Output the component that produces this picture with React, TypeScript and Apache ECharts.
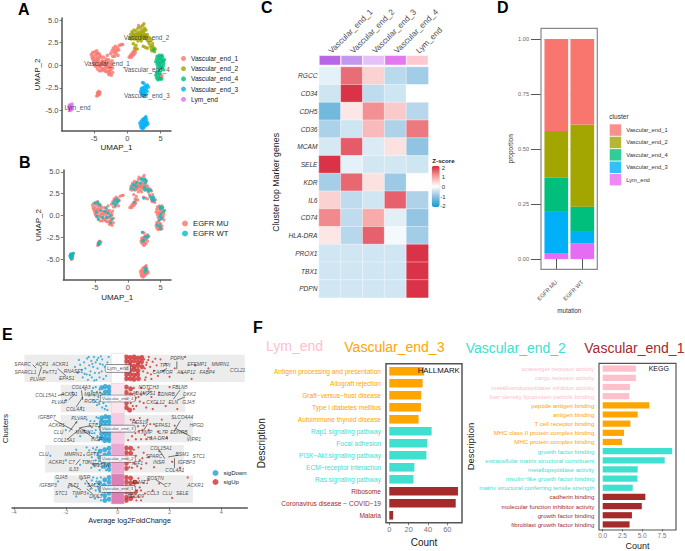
import React, { useEffect, useRef } from "react";
import * as echarts from "echarts";

const FONT = '"Liberation Sans", Arial, sans-serif';

/* ---------- Panel A / B : UMAP ---------- */
const clusterNames = ["Vascular_end_1", "Vascular_end_2", "Vascular_end_4", "Vascular_end_3", "Lym_end"];
const clusterColors = ["#F8766D", "#A3A500", "#00BF7D", "#00B0F6", "#E76BF3"];

const umapEnd1 = [[-5.4,1.2],[-5.3,0.9],[-5.2,1.4],[-5.1,0.5],[-5.0,1.0],[-5.0,0.2],[-4.9,1.5],[-4.8,0.7],[-4.8,-0.1],[-4.7,1.2],[-4.6,0.3],[-4.6,1.6],[-4.5,-0.4],[-4.5,0.9],[-4.4,0.0],[-4.3,1.3],[-4.3,0.5],[-4.2,-0.6],[-4.1,0.2],[-4.0,0.9],[-4.0,-0.2],[-3.9,-0.6],[-3.8,0.5],[-3.7,0.1],[-3.6,0.9],[-3.5,-0.4],[-3.4,0.4],[-3.3,-0.1],[-3.2,0.7],[-3.2,-0.7],[-3.1,-0.3],[-3.0,0.2],[-3.0,1.1],[-2.9,-0.7],[-2.8,0.6],[-2.8,-1.0],[-2.7,-0.2],[-2.6,0.3],[-2.6,-0.9],[-2.5,-0.5],[-2.4,0.1],[-2.4,-1.1],[-2.3,0.5],[-2.2,-0.3],[-2.2,-0.8],[-5.2,0.7],[-4.9,0.1],[-4.7,0.5],[-4.5,1.3],[-4.4,0.7],[-4.2,-0.1],[-4.1,1.1],[-3.9,0.2],[-3.7,-0.4],[-3.6,0.4],[-3.4,-0.6],[-3.3,0.2],[-3.1,0.5],[-2.9,-0.2],[-2.7,-0.6],[-2.5,0.0],[-2.5,1.3],[-2.3,1.6],[-2.2,1.0],[-2.1,1.9],[-2.0,1.4],[-1.9,1.0],[-1.9,1.7],[-1.8,2.1],[-1.7,1.3],[-1.6,1.6],[-1.5,1.9],[-1.4,1.1],[-1.3,1.7],[-1.2,2.2],[-0.9,2.3],[-0.7,2.3],[-4.6,-3.4],[-4.5,-3.1],[-4.4,-3.3],[-4.3,-2.9],[-4.2,-3.2],[-4.1,-3.0],[-4.4,-3.0],[0.3,0.9],[0.5,1.1],[0.6,0.9],[0.7,1.3],[0.8,1.1],[0.9,1.5],[1.0,1.2],[1.1,1.6],[1.2,1.4],[1.3,1.8],[4.9,-1.3],[5.0,-1.0],[5.2,-1.2],[1.7,4.4]];
const umapEnd2 = [[0.4,3.0],[0.5,3.4],[0.6,2.9],[0.7,3.7],[0.8,3.2],[0.9,2.4],[0.9,3.5],[1.0,3.9],[1.1,2.9],[1.1,1.9],[1.2,3.4],[1.3,2.2],[1.3,3.8],[1.4,3.0],[1.5,3.5],[1.5,1.8],[1.6,2.7],[1.6,4.1],[1.7,3.2],[1.8,3.7],[1.9,2.9],[2.0,4.2],[2.0,3.4],[2.1,2.7],[2.2,3.9],[2.2,3.1],[2.3,4.4],[2.4,3.6],[2.4,2.1],[2.5,4.6],[2.5,3.0],[2.6,4.1],[2.7,3.4],[2.7,2.0],[2.8,3.9],[2.9,2.9],[3.0,3.4],[3.0,1.9],[3.1,2.7],[3.2,3.1],[3.3,2.4],[3.4,3.0],[3.5,2.1],[3.6,2.8],[3.6,1.8],[3.7,1.6],[3.8,2.1],[3.9,1.7],[4.0,1.9],[4.1,1.5],[4.2,1.8],[3.8,2.4],[1.0,3.3],[1.3,3.1],[1.6,3.4],[1.9,3.3],[2.1,3.6],[2.3,3.3],[2.5,3.8],[2.6,3.3],[2.8,3.2]];
const umapEnd4 = [[4.3,0.4],[4.4,0.7],[4.5,0.1],[4.5,1.0],[4.6,0.4],[4.6,-0.2],[4.7,0.8],[4.7,-0.6],[4.8,0.2],[4.8,1.1],[4.9,-0.1],[4.9,0.6],[5.0,1.0],[5.0,0.3],[5.0,-0.4],[5.1,0.7],[5.1,0.0],[5.2,1.1],[5.2,-0.3],[5.3,0.4],[5.3,0.9],[5.4,-0.1],[5.4,0.5],[5.5,0.2],[5.6,0.6],[5.5,-0.5],[4.3,-1.1],[4.4,-1.4],[4.5,-0.9],[4.6,-1.6],[4.7,-1.2],[4.8,-1.5],[4.9,-0.9],[5.0,-1.5],[4.4,-0.8],[4.0,1.7],[5.2,-1.5]];
const umapEnd3 = [[2.0,-2.9],[2.1,-2.6],[2.1,-3.1],[2.2,-2.8],[2.3,-3.3],[2.3,-2.5],[2.4,-3.0],[2.5,-2.7],[2.5,-3.4],[2.6,-2.4],[2.6,-3.1],[2.7,-2.8],[2.8,-2.3],[2.8,-3.2],[2.9,-2.6],[3.0,-2.9],[3.0,-2.2],[3.2,-2.4],[2.3,-1.9],[2.5,-2.0],[1.9,-6.4],[2.0,-6.7],[2.1,-6.2],[2.1,-6.9],[2.2,-6.5],[2.3,-6.0],[2.3,-7.0],[2.4,-6.7],[2.4,-6.3],[2.5,-5.9],[2.5,-6.9],[2.6,-6.5],[2.6,-6.1],[2.7,-6.7],[2.7,-5.8],[2.8,-6.3],[2.9,-6.6],[2.9,-6.0],[3.0,-6.3],[3.1,-6.5],[2.8,-5.7]];
const umapLym = [[-8.8,-4.6],[-8.7,-4.4],[-8.7,-4.8],[-8.6,-4.5],[-8.6,-5.0],[-8.5,-4.7],[-8.5,-4.4],[-8.4,-4.6],[-8.4,-4.9],[-8.3,-4.3],[-8.7,-4.7]];
const umapByCluster = [umapEnd1, umapEnd2, umapEnd4, umapEnd3, umapLym];

const umapClusterLabels = [["Vascular_end_1",-3.05,0.25],["Vascular_end_2",2.9,3.05],["Vascular_end_4",2.95,-0.5],["Vascular_end_3",2.95,-3.3],["Lym_end",-7.5,-4.7]];

const egfrGroups = ["EGFR MU", "EGFR WT"];
const egfrColors = ["#F8766D", "#00BFC4"];
const umapWt = [[-5.0,1.4],[-4.6,1.5],[-4.3,1.2],[-4.8,0.4],[-4.5,-0.4],[-4.7,-0.1],[-4.1,0.6],[-3.8,-0.2],[-3.5,0.5],[-3.3,0.9],[-3.2,-0.2],[-3.0,0.3],[-2.7,0.0],[-2.6,-0.8],[-2.4,-0.4],[-2.2,1.4],[-2.0,1.7],[-1.9,1.2],[-1.7,1.9],[-1.6,1.5],[-1.4,1.7],[-4.5,-3.2],[-4.3,-3.0],[-4.4,-3.3],[0.5,3.2],[0.8,3.5],[0.9,3.0],[1.1,3.6],[1.3,3.3],[1.4,3.8],[1.0,1.5],[1.9,3.7],[2.0,4.2],[2.3,4.1],[2.6,4.2],[2.5,3.2],[2.7,3.7],[2.8,4.0],[2.6,2.9],[2.4,2.0],[3.0,3.0],[3.2,2.8],[3.5,2.9],[3.4,2.2],[3.6,1.9],[3.9,2.1],[4.0,1.8],[3.8,1.7],[4.9,1.0],[5.0,0.8],[5.3,0.9],[5.5,0.5],[5.1,0.2],[4.9,-0.1],[5.2,-0.3],[4.8,-0.5],[4.9,-1.2],[5.0,-1.5],[4.5,-1.1],[2.2,-1.9],[2.6,-2.4],[2.4,-2.8],[2.9,-2.5],[3.1,-2.3],[2.3,-2.9],[2.6,-6.4],[2.7,-6.0],[2.8,-6.2],[-8.8,-4.6],[-8.7,-4.4],[-8.7,-4.8],[-8.6,-4.5],[-8.5,-4.7],[-8.5,-4.4],[-8.4,-4.6],[-8.3,-4.3],[-8.6,-4.9]];

/* ---------- Panel C : heat map ---------- */
const heatColumns = ["Vascular_end_1", "Vascular_end_2", "Vascular_end_3", "Vascular_end_4", "Lym_end"];
const heatAnnotationColors = ["#B966E6", "#C398EC", "#E8C0F8", "#E478F0", "#FFC8D0"];
const heatGenes = ["RGCC","CD34","CDH5","CD36","MCAM","SELE","KDR","IL6","CD74","HLA-DRA","PROX1","TBX1","PDPN"];
const heatValues = [
  [-0.22, 1.4, 0.45, -0.6, -0.8],
  [-0.42, 1.9, -0.55, -0.42, 0],
  [-1.2, 0.25, 1.1, 0.55, -0.62],
  [-0.72, -0.42, 0.7, -0.7, 1.3],
  [-0.36, 1.55, -0.32, 0.3, -0.95],
  [1.9, -0.22, -0.38, -0.38, -0.42],
  [-0.78, 1.45, 0.3, -0.85, 0.02],
  [0.45, -0.55, -0.4, 1.5, -0.7],
  [1.15, -0.55, 0.85, -0.25, -0.92],
  [0.25, -0.62, 1.5, -0.1, -0.8],
  [-0.4, -0.4, -0.4, -0.4, 1.9],
  [-0.4, -0.4, -0.4, -0.4, 1.9],
  [-0.4, -0.4, -0.4, -0.4, 1.9],
];
const heatLegendTicks = ["2", "1", "0", "-1", "-2"];

/* ---------- Panel D : proportions ---------- */
const mutationGroups = ["EGFR MU", "EGFR WT"];
const proportions: Record<string, number[]> = {
  Lym_end: [0.027, 0.071],
  Vascular_end_3: [0.187, 0.056],
  Vascular_end_4: [0.157, 0.111],
  Vascular_end_2: [0.211, 0.374],
  Vascular_end_1: [0.418, 0.388],
};
const proportionTicks = [0, 0.25, 0.5, 0.75, 1];

/* ---------- Panel E : volcano ---------- */
const volcanoBands = [[-3.6,4.9,5],[-2.2,2.6,4],[-2.2,2.9,3],[-2.8,2.55,2],[-2.47,2.9,1]];
const volcanoTiles = [[5,"#FFFFFF"],[4,"#FCE4EF"],[3,"#F5CBE3"],[2,"#EAA8D2"],[1,"#DF7DB5"]];
const volcanoClusterLabels = [["Lym_end",5,5.3],["Vascular_end_4",4,4.4],["Vascular_end_3",3,4.4],["Vascular_end_2",2,4.4],["Vascular_end_1",1,4.4]];

const sigDownCore = [[-0.33,3.38],[-0.47,3.4],[-0.62,3.36],[-0.33,3.24],[-0.48,3.22],[-0.63,3.24],[-0.32,3.1],[-0.47,3.08],[-0.62,3.1],[-0.33,2.96],[-0.48,2.95],[-0.63,2.97],[-0.32,2.82],[-0.47,2.83],[-0.62,2.84],[-0.33,2.68],[-0.48,2.69],[-0.63,2.7],[-0.33,2.6],[-0.5,2.6],
[-0.33,4.38],[-0.48,4.4],[-0.62,4.36],[-0.33,4.24],[-0.48,4.22],[-0.34,4.1],[-0.52,4.08],[-0.33,3.96],
[-0.33,2.35],[-0.5,2.3],[-0.68,2.25],[-0.33,2.18],[-0.5,2.12],[-0.7,2.05],[-0.33,1.98],[-0.55,1.92],[-0.33,1.8],[-0.5,1.75],[-0.33,1.65],
[-0.33,1.38],[-0.5,1.3],[-0.33,1.22],[-0.52,1.12],[-0.7,1.2],[-0.33,1.05],[-0.5,0.95],[-0.68,1.0],[-0.33,0.86],[-0.5,0.78],[-0.33,0.66],[-0.5,0.62]];
const sigUpCore = [[0.33,5.38],[0.48,5.36],[0.63,5.38],[0.78,5.34],[0.93,5.36],[0.33,5.24],[0.48,5.22],[0.63,5.25],[0.78,5.2],[0.92,5.22],[0.33,5.08],[0.48,5.1],[0.63,5.07],[0.78,5.09],[0.94,5.05],[0.33,4.95],[0.48,4.94],[0.63,4.96],[0.78,4.93],[0.33,4.8],[0.48,4.81],[0.63,4.78],[0.77,4.8],[0.33,4.66],[0.48,4.66],[0.63,4.64],[0.8,4.66],
[0.33,4.38],[0.5,4.32],[0.33,4.2],[0.5,4.12],[0.33,4.02],[0.33,3.85],[0.33,3.7],[0.46,3.62],
[0.33,2.36],[0.5,2.35],[0.33,2.2],[0.5,2.18],[0.33,2.04],[0.46,1.95],[0.33,1.85],[0.33,1.68],
[0.33,1.38],[0.5,1.36],[0.33,1.22],[0.5,1.2],[0.66,1.22],[0.33,1.06],[0.5,1.04],[0.33,0.9],[0.5,0.86],[0.68,0.9],[0.33,0.72],[0.5,0.68],[0.33,0.62]];
const sigDownScatter = [[-0.4,5.2],[-0.45,4.75],[-0.5,5.05],[-0.55,4.65],[-0.6,5.3],[-0.62,4.9],[-0.68,5.15],[-0.7,4.7],[-0.75,5.35],[-0.78,5.0],[-0.82,4.62],[-0.85,5.2],[-0.88,4.85],[-0.92,5.38],[-0.95,5.05],[-1.0,4.7],[-1.02,5.25],[-1.05,4.9],[-1.1,5.1],[-1.15,4.62],[-1.18,5.33],[-1.2,4.8],[-1.25,5.0],[-1.3,5.2],[-1.35,4.7],[-1.4,4.95],[-1.45,5.12],[-1.5,5.28],[-1.55,4.85],[-1.65,5.05],[-0.9,4.6],[-0.35,5.38],[-0.65,5.4],[-1.12,5.38],[-0.72,4.85],[-0.98,5.15],[-1.28,4.82],[-0.58,5.12],[-0.8,5.28],[-1.08,4.78],
[-0.6,4.15],[-0.7,4.3],[-0.75,4.05],[-0.8,4.22],[-0.85,4.38],[-0.9,4.1],[-0.95,3.95],[-1.0,4.25],[-1.1,4.1],[-0.55,3.85],[-0.6,3.7],[-0.7,3.9],[-0.45,3.75],[-0.4,3.62],[-0.5,3.65],[-0.8,3.78],[-1.25,4.3],[-1.4,3.7],[-1.75,4.2],[-2.0,3.95],[-0.65,4.02],[-0.72,3.82],[-0.88,3.9],[-0.68,4.2],[-0.95,4.35],[-0.55,3.95],
[-0.75,3.35],[-0.8,3.15],[-0.85,2.95],[-0.78,2.75],[-0.9,3.25],[-0.95,2.7],[-1.0,3.05],[-1.1,2.88],[-1.2,3.3],[-1.3,2.95],[-1.45,2.75],[-1.6,3.2],[-2.0,2.95],[-0.72,3.05],[-0.72,2.62],[-0.82,3.38],[-0.9,2.85],[-1.05,3.25],
[-0.8,2.38],[-0.9,2.2],[-0.95,2.35],[-1.0,2.05],[-0.85,1.95],[-0.75,1.8],[-0.6,1.7],[-0.7,1.62],[-0.45,1.62],[-1.1,2.28],[-1.15,1.9],[-1.3,2.12],[-1.45,1.8],[-1.6,2.3],[-2.0,1.95],[-2.6,2.1],[-0.78,2.15],[-0.85,2.3],[-0.72,1.92],[-0.88,1.75],[-0.62,1.84],[-1.02,1.7],[-1.2,2.38],
[-0.8,1.35],[-0.9,1.15],[-0.85,0.95],[-0.75,0.72],[-0.6,0.82],[-0.65,1.38],[-1.0,1.28],[-1.05,1.0],[-1.15,0.85],[-1.25,1.18],[-1.4,1.32],[-1.6,0.75],[-1.9,1.05],[-2.3,1.25],[-0.78,1.08],[-0.7,0.9],[-0.88,0.68],[-0.65,0.62],[-0.95,1.38],[-0.82,1.25]];
const sigUpScatter = [[1.02,5.3],[1.05,5.0],[1.08,4.7],[1.12,5.2],[1.15,4.85],[1.2,5.38],[1.25,5.05],[1.3,4.65],[1.35,5.22],[1.4,4.92],[1.5,5.1],[1.55,4.75],[1.65,5.3],[1.75,4.9],[1.85,5.15],[2.0,4.72],[2.2,5.0],[2.5,4.85],[2.6,5.38],[3.0,5.1],[2.85,4.65],[3.5,5.0],[1.05,4.62],[1.1,5.12],[1.18,5.28],[1.28,4.8],[0.98,4.9],[1.45,5.32],
[0.62,4.35],[0.72,4.2],[0.8,4.05],[0.65,3.95],[0.5,3.85],[0.72,3.75],[0.62,3.65],[0.9,4.35],[1.0,4.18],[1.0,3.85],[1.1,3.7],[1.2,4.3],[1.3,4.05],[1.35,3.65],[1.5,3.85],[1.6,4.2],[1.85,3.75],[2.0,4.38],[2.3,3.65],[0.45,4.0],[0.58,3.75],[0.85,3.9],[0.7,4.02],[0.9,4.12],
[0.5,3.3],[0.6,3.05],[0.55,2.75],[0.7,2.65],[0.7,3.2],[0.8,2.9],[0.85,3.35],[0.9,2.65],[1.0,3.1],[1.05,2.8],[1.15,3.3],[1.2,2.95],[1.3,2.7],[1.4,3.15],[1.55,2.9],[1.7,3.3],[1.9,2.7],[2.2,3.1],[0.4,2.62],[0.45,3.0],[0.62,3.3],[0.78,3.08],[0.95,2.95],[0.68,2.85],[1.1,2.65],[1.25,3.15],
[0.62,2.3],[0.7,2.1],[0.65,1.85],[0.55,1.7],[0.8,2.38],[0.85,1.95],[0.9,1.68],[1.0,2.2],[1.1,1.85],[1.2,2.05],[1.4,1.72],[1.6,2.25],[2.1,1.9],[2.4,1.7],[0.62,2.02],[0.45,1.72],[0.75,1.75],[0.95,2.02],[0.58,1.92],
[0.8,1.35],[0.85,1.05],[0.8,0.75],[0.9,0.62],[1.0,1.2],[1.05,0.85],[1.2,1.3],[1.35,0.95],[1.6,1.18],[2.7,1.38],[0.75,0.95],[2.1,0.7],[0.65,1.08],[0.78,1.2],[0.62,0.75],[0.9,0.95],[0.72,0.62]];

const geneLabels = [["SPARC",-3.67,5.14],["AQP1",-2.92,5.14],["ACKR1",-2.22,5.14],["SPARCL1",-3.56,4.86],["PeTT1",-2.62,4.86],["RNASE1",-1.71,4.9],["PLVAP",-3.09,4.63],["EPAS1",-1.97,4.66],["PDPN",2.29,5.33],["TFPI",1.83,5.1],["EFEMP1",3.06,5.14],["MMRN1",3.96,5.14],["FABP4",3.45,4.86],["AKAP12",2.64,4.86],["CAPTOR",1.73,4.86],["CCL21",4.63,4.94],
["COL4A3",-1.41,4.36],["COL15A1",-2.77,4.1],["ACKR1",-1.87,4.13],["MMRN1",-0.95,4.13],["PLVAP",-2.26,3.87],["RGCC",-1.01,3.89],["COL4A1",-1.63,3.63],["NOTCH3",1.19,4.36],["ADAMTS1",1.01,4.17],["FBLN5",2.4,4.37],["EDNRB",1.87,4.13],["DKK2",2.77,4.13],["GJA5",2.73,3.87],["ELN",2.14,3.87],["CXCL12",1.46,3.87],
["IGFBP7",-2.74,3.37],["PLVAP",-1.5,3.34],["ACKR1",-2.36,3.12],["STC1",-0.9,3.12],["CLU",-2.29,2.87],["MMRN1",-1.29,2.87],["COL15A1",-2.06,2.62],["INSR",-0.81,2.65],["RGS19",0.85,3.2],["EPAS1",1.74,3.12],["SLCO4A4",2.49,3.37],["HPGD",3.04,3.12],["IL7R",1.74,2.87],["EDNRB",2.36,2.87],["TXNIP",1.05,2.87],["HLA-DRA",1.53,2.67],["VIPR1",2.94,2.65],
["COL15A1",1.67,2.35],["CLU",-2.86,2.13],["MMRN1",-1.72,2.15],["GFT3",-0.97,2.15],["ACKR1",-2.36,1.87],["C7",-1.78,1.89],["TCN2",-1.14,1.87],["IL33",-1.7,1.65],["POSTN",-0.64,1.77],["SPARC",1.4,2.09],["BSM1",2.49,2.13],["STC1",3.13,2.09],["IGFBP3",2.65,1.87],["COL4A1",2.2,1.62],["INSR",1.59,1.87],["IGF1",0.76,1.85],
["GJA5",-2.18,1.37],["INSR",-1.28,1.37],["IGFBP3",-2.69,1.13],["FLT1",-1.71,1.11],["SAC3",-0.94,1.13],["STC1",-2.18,0.85],["TIMP3",-1.49,0.85],["DKK3",-0.85,0.75],["POSTN",1.45,1.35],["EMAT1",0.88,1.22],["C7",1.91,1.11],["ACKR1",3.0,1.13],["CCL3",1.35,0.85],["CLU",1.91,0.85],["SELE",2.49,0.85],["NEDD9",0.69,0.75]];

const geneConnectors = [[-3.28,5.12,-3.15,5.01],[-2.94,5.04,-3.06,4.73],[-2.32,5.0,-2.0,4.75],[2.28,5.23,2.28,4.97],[1.9,5.0,1.7,4.9],
[-1.4,4.27,-1.35,3.95],[-2.3,4.1,-2.05,4.15],[-1.9,3.95,-1.65,4.15],[-1.6,3.72,-1.35,4.05],[1.3,4.25,1.1,4.1],[2.4,4.28,2.15,3.98],[2.6,4.05,2.3,3.95],
[-2.45,3.29,-1.74,2.96],[-1.56,3.26,-1.87,2.9],[-1.9,2.68,-1.42,3.02],[-1.05,3.1,-1.5,3.02],[-0.98,2.72,-1.42,3.0],[2.42,3.27,2.17,2.9],[2.81,2.74,2.23,3.01],[1.15,3.15,1.0,2.95],
[2.19,2.02,2.19,1.7],[2.35,2.12,1.95,2.06],[-1.62,1.8,-1.45,1.98],[1.62,2.27,1.82,2.0],[-1.0,1.8,-0.75,1.85],
[-1.23,1.3,-0.97,0.99],[-1.42,0.97,-1.87,1.18],[1.8,1.13,1.48,1.3],[-0.95,0.82,-1.2,1.0]];

const volcanoTicks = [-4, -2, 0, 2, 4];

/* ---------- Panel F : enrichment ---------- */
const PINK = "#FFC0CB", ORANGE = "#FFA500", TURQ = "#40E0D0", BROWN = "#A52A2A";
const enrichTitles = [["Lym_end", PINK, 266, 346], ["Vascular_end_3", ORANGE, 344.3, 347], ["Vascular_end_2", TURQ, 465.7, 348], ["Vascular_end_1", BROWN, 584.3, 348]];
const hallmarkTerms = ["Antigen processing and presentation","Allograft rejection","Graft\u2212versus\u2212host disease","Type I diabetes mellitus","Autoimmune thyroid disease","Rap1 signaling pathway","Focal adhesion","PI3K\u2212Akt signaling pathway","ECM\u2212receptor interaction","Ras signaling pathway","Ribosome","Coronavirus disease \u2212 COVID\u221219","Malaria"];
const hallmarkCounts = [36, 34.5, 33, 32.7, 30.3, 43.8, 39.4, 38.4, 26, 25, 71, 68.7, 4];
const hallmarkColors = [ORANGE,ORANGE,ORANGE,ORANGE,ORANGE,TURQ,TURQ,TURQ,TURQ,TURQ,BROWN,BROWN,BROWN];
const keggTerms = ["scavenger receptor activity","cargo receptor activity","metalloendopeptidase inhibitor activity","low\u2212density lipoprotein particle binding","peptide antigen binding","antigen binding","T cell receptor binding","MHC class II protein complex binding","MHC protein complex binding","growth factor binding","extracellular matrix structural constituent","metallopeptidase activity","insulin\u2212like growth factor binding","matrix structural conferring tensile strength","cadherin binding","molecular function inhibitor activity","growth factor binding","fibroblast growth factor binding"];
const keggCounts = [4.2, 4.2, 3.45, 3.35, 5.9, 4.43, 3.5, 2.7, 2.45, 8.8, 7.85, 4.43, 4.4, 3.8, 5.4, 4.95, 3.7, 3.4];
const keggColors = [PINK,PINK,PINK,PINK,ORANGE,ORANGE,ORANGE,ORANGE,ORANGE,TURQ,TURQ,TURQ,TURQ,TURQ,BROWN,BROWN,BROWN,BROWN];

/* ---------- helpers ---------- */
const AXIS_DARK = "#555555";
const TICK_TEXT = "#4d4d4d";

function valueAxis(gridIndex: number, min: number, max: number, ticks: number[], extra: any = {}) {
  return {
    type: "value", gridIndex, min, max, scale: false,
    splitLine: { show: false },
    axisLine: { show: true, onZero: false, lineStyle: { color: AXIS_DARK, width: 1.5 } },
    axisTick: { show: true, length: 2.5, customValues: ticks, lineStyle: { color: AXIS_DARK, width: 0.8 } },
    axisLabel: { customValues: ticks, fontSize: 7.5, color: TICK_TEXT, margin: 3.5, fontFamily: FONT, hideOverlap: false },
    nameLocation: "middle",
    nameTextStyle: { fontFamily: FONT, color: "#222", fontSize: 8 },
    ...extra,
  };
}

function textLabel(text: string, x: number, y: number, font: string, fill: string, align = "left", rotation = 0) {
  return {
    type: "text", x, y, rotation, z: 20, silent: true,
    style: { text, font, fill, textAlign: align, textVerticalAlign: "middle" },
  };
}

function frame(x: number, y: number, w: number, h: number, stroke: string, lineWidth: number) {
  return { type: "rect", z: 15, silent: true, shape: { x, y, width: w, height: h }, style: { fill: "none", stroke, lineWidth } };
}

function umapAxes(gridIndex: number, xGap: number, yGap: number) {
  return {
    x: valueAxis(gridIndex, -9.83, 6.58, [-5, 0, 5], { name: "UMAP_1", nameGap: xGap }),
    y: (min: number, max: number) => valueAxis(gridIndex, min, max, [-5, -2.5, 0, 2.5, 5], {
      name: "UMAP_2", nameGap: yGap,
      axisLabel: { customValues: [-5, -2.5, 0, 2.5, 5], fontSize: 7.5, color: TICK_TEXT, margin: 3.5, fontFamily: FONT, formatter: (v: number) => v.toFixed(1) },
    }),
  };
}

function enrichBars(axisIdx: number, counts: number[], colors: string[], width: number) {
  return {
    type: "bar", xAxisIndex: axisIdx, yAxisIndex: axisIdx, barWidth: width, silent: true,
    data: counts.map((v, i) => ({ value: v, itemStyle: { color: colors[i] } })),
  };
}

function enrichCategoryAxis(gridIndex: number, terms: string[], colors: string[], fontSize: number, margin: number, nameGap: number, nameSize: number) {
  return {
    type: "category", gridIndex, data: terms, inverse: true,
    axisLine: { show: false }, axisTick: { show: false }, splitLine: { show: false },
    axisLabel: { interval: 0, fontSize, margin, fontFamily: FONT, color: (_: any, i: number) => colors[i] },
    name: "Description", nameLocation: "middle", nameGap,
    nameTextStyle: { fontFamily: FONT, color: "#222", fontSize: nameSize },
  };
}

function buildOption() {
  const a = umapAxes(0, 12.5, 18), b = umapAxes(1, 13.5, 21);

  const xAxis: any[] = [
    a.x, b.x,
    { type: "category", gridIndex: 2, position: "top", data: heatColumns, axisLine: { show: false }, axisTick: { show: false },
      axisLabel: { rotate: 45, interval: 0, fontSize: 8.2, color: TICK_TEXT, margin: 3, fontFamily: FONT } },
    { type: "category", gridIndex: 3, data: heatColumns, axisLine: { show: false }, axisTick: { show: false }, axisLabel: { show: false } },
    { type: "category", gridIndex: 4, data: mutationGroups, axisLine: { show: false },
      axisTick: { show: true, length: 10, alignWithLabel: true, lineStyle: { color: "#444", width: 0.9 } },
      axisLabel: { rotate: 45, interval: 0, fontSize: 5.6, color: TICK_TEXT, margin: 12, fontFamily: FONT },
      name: "mutation", nameLocation: "middle", nameGap: 38, nameTextStyle: { fontFamily: FONT, color: "#333", fontSize: 6.3 } },
    valueAxis(5, -4.08, 5, volcanoTicks, {
      name: "Average log2FoldChange", nameGap: 9.5, nameTextStyle: { fontFamily: FONT, color: "#222", fontSize: 7.3 },
      axisLabel: { customValues: volcanoTicks, fontSize: 5.5, color: "#777", margin: 2, fontFamily: FONT },
    }),
    valueAxis(6, -3.4, 75.2, [0, 20, 40, 60], {
      offset: 1.4, axisLine: { show: false, onZero: false },
      name: "Count", nameGap: 14.5, nameTextStyle: { fontFamily: FONT, color: "#222", fontSize: 10 },
      axisLabel: { customValues: [0, 20, 40, 60], fontSize: 7.5, color: "#777", margin: 2.5, fontFamily: FONT },
    }),
    valueAxis(7, -0.47, 9.28, [0, 2.5, 5, 7.5], {
      axisLine: { show: false, onZero: false },
      name: "Count", nameGap: 12, nameTextStyle: { fontFamily: FONT, color: "#222", fontSize: 9 },
      axisLabel: { customValues: [0, 2.5, 5, 7.5], fontSize: 6.5, color: "#777", margin: 2.5, fontFamily: FONT, formatter: (v: number) => v.toFixed(1) },
    }),
  ];

  const yAxis: any[] = [
    a.y(-7.27, 5.23), b.y(-7.34, 5.2),
    { type: "value", gridIndex: 2, min: 0, max: 1, show: false },
    { type: "category", gridIndex: 3, data: heatGenes, inverse: true, axisLine: { show: false }, axisTick: { show: false },
      axisLabel: { interval: 0, fontSize: 6.6, fontStyle: "italic", color: "#333", margin: 1.5, fontFamily: FONT },
      name: "Cluster top Marker genes", nameLocation: "middle", nameGap: 39,
      nameTextStyle: { fontFamily: FONT, color: "#222", fontSize: 8.8 } },
    { type: "value", gridIndex: 4, min: -0.047, max: 1.049, offset: 2.3,
      axisLine: { show: false, onZero: false },
      axisTick: { show: true, length: 10, customValues: proportionTicks, lineStyle: { color: "#444", width: 0.9 } },
      splitLine: { show: true, lineStyle: { color: "#ececec", width: 0.7 } },
      axisLabel: { customValues: proportionTicks, fontSize: 5.6, color: "#666", margin: 12, fontFamily: FONT, formatter: (v: number) => v.toFixed(2) },
      name: "proportion", nameLocation: "middle", nameGap: 27, nameTextStyle: { fontFamily: FONT, color: "#333", fontSize: 6.5 } },
    { type: "value", gridIndex: 5, min: 0.39, max: 5.61, axisLine: { show: false }, axisTick: { show: false }, axisLabel: { show: false }, splitLine: { show: false },
      name: "Clusters", nameLocation: "middle", nameGap: 3, nameTextStyle: { fontFamily: FONT, color: "#222", fontSize: 8 } },
    enrichCategoryAxis(6, hallmarkTerms, hallmarkColors, 6.6, 5, 119.5, 10),
    enrichCategoryAxis(7, keggTerms, keggColors, 6.1, 4.7, 123, 9.5),
  ];

  const grid = [
    { left: 62, top: 18, width: 109, height: 113 },
    { left: 63.3, top: 170, width: 107.7, height: 110 },
    { left: 319, top: 55.3, width: 109.3, height: 10 },
    { left: 319, top: 67, width: 109.3, height: 230.7 },
    { left: 543.3, top: 28.3, width: 52, height: 241 },
    { left: 11, top: 350, width: 236.3, height: 157.3 },
    { left: 386, top: 365.3, width: 76, height: 156 },
    { left: 599, top: 364.1, width: 77, height: 165.2 },
  ].map((g) => ({ ...g, containLabel: false }));

  const series: any[] = [];

  // Panel A
  clusterNames.forEach((name, i) => {
    series.push({ type: "scatter", name, xAxisIndex: 0, yAxisIndex: 0, symbolSize: 3.6, silent: true, itemStyle: { color: clusterColors[i] }, data: umapByCluster[i] });
  });
  series.push({
    type: "scatter", name: "umap cluster labels", xAxisIndex: 0, yAxisIndex: 0, symbolSize: 1, silent: true, z: 5,
    itemStyle: { color: "transparent" },
    data: umapClusterLabels.map((l) => ({ value: [l[1], l[2]], name: l[0] })),
    label: { show: true, position: "inside", formatter: "{b}", fontSize: 6.4, color: "#222", fontFamily: FONT },
  });

  // Panel B
  series.push({ type: "scatter", name: egfrGroups[0], xAxisIndex: 1, yAxisIndex: 1, symbolSize: 3.2, silent: true, itemStyle: { color: egfrColors[0] }, data: umapByCluster.flat() });
  series.push({ type: "scatter", name: egfrGroups[1], xAxisIndex: 1, yAxisIndex: 1, symbolSize: 3.2, silent: true, itemStyle: { color: egfrColors[1] }, data: umapWt });

  // Panel C
  series.push({
    type: "bar", name: "cluster annotation", xAxisIndex: 2, yAxisIndex: 2, barWidth: "100%", silent: true,
    data: heatAnnotationColors.map((c) => ({ value: 1, itemStyle: { color: c, borderColor: "#fff", borderWidth: 0.5 } })),
  });
  const heatSeriesIndex = series.length;
  series.push({
    type: "heatmap", name: "z-score", xAxisIndex: 3, yAxisIndex: 3, silent: true,
    itemStyle: { borderColor: "#fff", borderWidth: 0.4 },
    data: heatValues.flatMap((row, r) => row.map((v, c) => [c, r, v])),
  });

  // Panel D (stacked from the bottom up)
  Object.keys(proportions).forEach((name) => {
    series.push({
      type: "bar", name, stack: "prop", xAxisIndex: 4, yAxisIndex: 4, barWidth: 23.7, silent: true,
      itemStyle: { color: clusterColors[clusterNames.indexOf(name)] },
      data: proportions[name],
    });
  });

  // Panel E
  series.push({
    type: "custom", name: "bands", xAxisIndex: 5, yAxisIndex: 5, silent: true, z: 1, clip: false,
    data: volcanoBands,
    renderItem: (_: any, api: any) => {
      const p0 = api.coord([api.value(0), api.value(2) + 0.455]);
      const p1 = api.coord([api.value(1), api.value(2) - 0.455]);
      return { type: "rect", shape: { x: p0[0], y: p0[1], width: p1[0] - p0[0], height: p1[1] - p0[1] }, style: { fill: "#ECECEC" } };
    },
  });
  series.push({
    type: "scatter", name: "sigDown", xAxisIndex: 5, yAxisIndex: 5, symbolSize: 5, silent: true, z: 2, itemStyle: { color: "#1F9FD6" }, data: sigDownCore,
  });
  series.push({
    type: "scatter", name: "sigUp", xAxisIndex: 5, yAxisIndex: 5, symbolSize: 5, silent: true, z: 2, itemStyle: { color: "#D2302F" }, data: sigUpCore,
  });
  series.push({
    type: "scatter", name: "sigDown", xAxisIndex: 5, yAxisIndex: 5, symbolSize: 2.2, silent: true, z: 2, itemStyle: { color: "#1F9FD6" }, data: sigDownScatter,
  });
  series.push({
    type: "scatter", name: "sigUp", xAxisIndex: 5, yAxisIndex: 5, symbolSize: 2.2, silent: true, z: 2, itemStyle: { color: "#D2302F" }, data: sigUpScatter,
  });
  series.push({
    type: "custom", name: "tiles", xAxisIndex: 5, yAxisIndex: 5, silent: true, z: 3,
    data: volcanoTiles.map((t) => [t[0]]),
    renderItem: (params: any, api: any) => {
      const y = api.value(0);
      const p0 = api.coord([-0.25, y + 0.5]);
      const p1 = api.coord([0.25, y - 0.5]);
      return { type: "rect", shape: { x: p0[0], y: p0[1], width: p1[0] - p0[0], height: p1[1] - p0[1] }, style: { fill: volcanoTiles[params.dataIndex][1] as string, stroke: "#DDD0D8", lineWidth: 0.5 } };
    },
  });
  series.push({
    type: "custom", name: "connectors", xAxisIndex: 5, yAxisIndex: 5, silent: true, z: 4,
    data: geneConnectors,
    renderItem: (_: any, api: any) => {
      const p0 = api.coord([api.value(0), api.value(1)]);
      const p1 = api.coord([api.value(2), api.value(3)]);
      return { type: "line", shape: { x1: p0[0], y1: p0[1], x2: p1[0], y2: p1[1] }, style: { stroke: "#222", lineWidth: 0.6 } };
    },
  });
  series.push({
    type: "scatter", name: "gene labels", xAxisIndex: 5, yAxisIndex: 5, symbolSize: 1, silent: true, z: 5,
    itemStyle: { color: "transparent" },
    data: geneLabels.map((l) => ({ value: [l[1], l[2]], name: l[0] })),
    label: { show: true, position: "inside", formatter: "{b}", fontSize: 4.9, fontStyle: "italic", color: "#222", fontFamily: FONT },
  });
  series.push({
    type: "scatter", name: "cluster boxes", xAxisIndex: 5, yAxisIndex: 5, symbolSize: 1, silent: true, z: 6,
    itemStyle: { color: "transparent" },
    data: volcanoClusterLabels.map((l) => ({
      value: [0, l[1]], name: l[0],
      label: { fontSize: l[2] as number },
    })),
    label: { show: true, position: "inside", formatter: "{b}", color: "#222", fontFamily: FONT, backgroundColor: "#fff", borderColor: "#555", borderWidth: 0.6, borderRadius: 1.5, padding: [1.2, 1.5] },
  });

  // Panel F
  series.push(enrichBars(6, hallmarkCounts, hallmarkColors, 8.6));
  series.push(enrichBars(7, keggCounts, keggColors, 6.2));

  const graphicElements: any[] = [
    textLabel("A", 18, 9, "bold 16px " + FONT, "#000"),
    textLabel("B", 19, 162, "bold 16px " + FONT, "#000"),
    textLabel("C", 261, 7, "bold 16px " + FONT, "#000"),
    textLabel("D", 497, 7, "bold 16px " + FONT, "#000"),
    textLabel("E", 2, 334, "bold 16px " + FONT, "#000"),
    textLabel("F", 253, 327, "bold 16px " + FONT, "#000"),
    textLabel("Z-score", 432.3, 160.3, "bold 6.2px " + FONT, "#222"),
    textLabel("cluster", 609.3, 116.7, "6.6px " + FONT, "#333"),
    ...heatLegendTicks.map((t, i) => textLabel(t, t.length > 1 ? 440.3 : 441.7, 167.7 + i * 9.6, "6px " + FONT, "#333")),
    frame(541, 28.3, 56.3, 241, "#888888", 1.2),
    frame(386, 363.7, 76, 159, AXIS_DARK, 1.5),
    frame(599, 363.3, 77, 166.7, AXIS_DARK, 1.2),
    textLabel("HALLMARK", 417.7, 370.7, "7.8px " + FONT, "#111"),
    textLabel("KEGG", 648.7, 368, "7px " + FONT, "#111"),
    ...enrichTitles.map((t) => textLabel(t[0] as string, t[2] as number, t[3] as number, "14px " + FONT, t[1] as string)),
  ];

  return {
    animation: false,
    backgroundColor: "#fff",
    textStyle: { fontFamily: FONT },
    grid, xAxis, yAxis, series,
    visualMap: [{
      type: "continuous", seriesIndex: heatSeriesIndex, dimension: 2, min: -2, max: 2, calculable: false,
      left: 431.7, top: 165.7, itemWidth: 8, itemHeight: 41.3, padding: 0, text: ["", ""], textGap: 0, hoverLink: false, silent: true,
      inRange: { color: ["#0F9ED5", "#8BC0E0", "#FFFFFF", "#F59C9C", "#D7263D"] },
      textStyle: { fontSize: 1 },
    }],
    legend: [
      { data: clusterNames, orient: "vertical", left: 181, top: 55, icon: "circle", itemWidth: 5, itemHeight: 5, itemGap: 3.2, padding: 0, selectedMode: false,
        textStyle: { fontSize: 6.6, color: "#222", fontFamily: FONT } },
      { data: egfrGroups, orient: "vertical", left: 182, top: 219.5, icon: "circle", itemWidth: 6, itemHeight: 6, itemGap: 2, padding: 0, selectedMode: false,
        textStyle: { fontSize: 7.7, color: "#222", fontFamily: FONT } },
      { data: clusterNames, orient: "vertical", left: 609.7, top: 124.3, icon: "rect", itemWidth: 11.5, itemHeight: 11.5, itemGap: 0.9, padding: 0, selectedMode: false,
        textStyle: { fontSize: 5.8, color: "#333", fontFamily: FONT } },
      { data: ["sigDown", "sigUp"], orient: "vertical", left: 212.5, top: 470, icon: "circle", itemWidth: 6, itemHeight: 6, itemGap: 3, padding: 0, selectedMode: false,
        textStyle: { fontSize: 6, color: "#222", fontFamily: FONT } },
    ],
    graphic: { elements: graphicElements },
  };
}

export default function App() {
  const ref = useRef<HTMLDivElement>(null);
  useEffect(() => {
    const chart = echarts.init(ref.current!, undefined, { renderer: "svg" });
    chart.setOption(buildOption() as any);
    return () => chart.dispose();
  }, []);
  return <div ref={ref} style={{ position: "fixed", left: 0, top: 0, width: 685, height: 551 }} />;
}
